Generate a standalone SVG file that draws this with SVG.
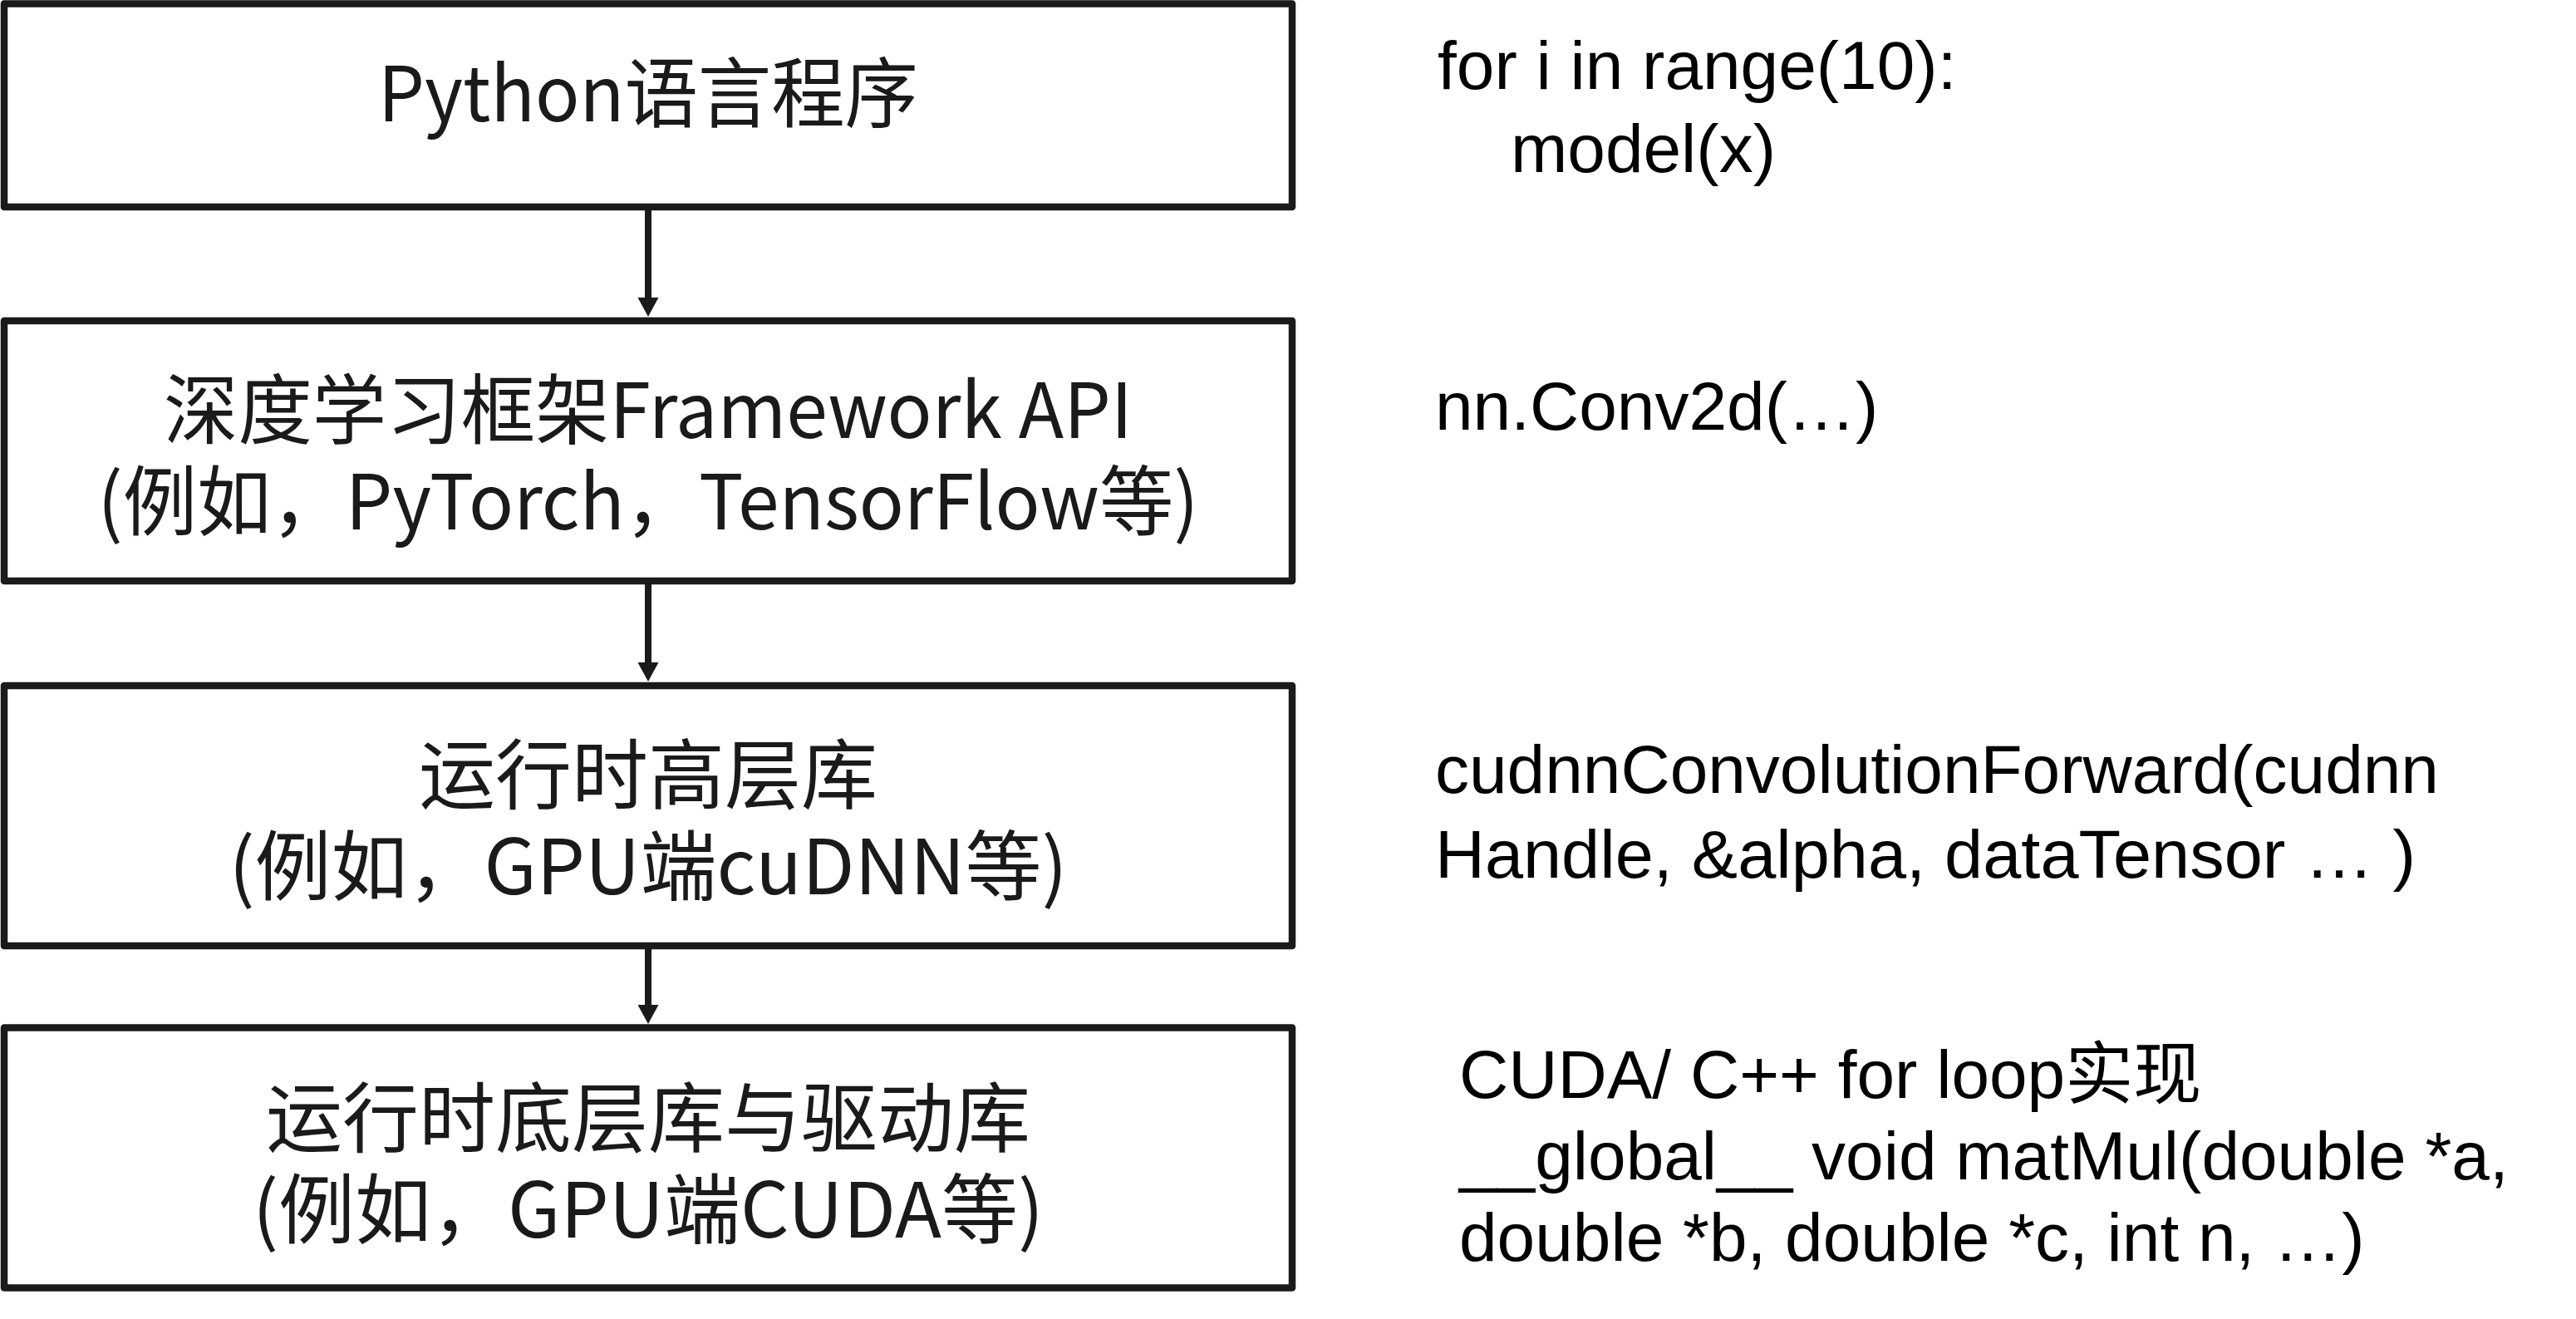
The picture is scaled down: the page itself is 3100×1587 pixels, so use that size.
<svg xmlns="http://www.w3.org/2000/svg" width="3100" height="1587" viewBox="0 0 3100 1587">
  <style>
    .box { fill: #ffffff; stroke: #1a1a1a; stroke-width: 8.5; stroke-linejoin: round; }
    .lbl { font-family: "Microsoft YaHei", "Noto Sans CJK SC", sans-serif; font-size: 92px; fill: #1a1a1a; text-anchor: middle; }
    .code { font-family: "Liberation Sans", Arial, "Noto Sans CJK SC", sans-serif; font-size: 82px; fill: #000000; }
    .conn { stroke: #1a1a1a; stroke-width: 8; fill: none; }
  </style>
  <defs>
    <marker id="arrow" markerUnits="userSpaceOnUse" viewBox="0 0 23 25" markerWidth="23" markerHeight="25" refX="2" refY="12.5" orient="auto">
      <path d="M0,0 L23,12.5 L0,25 Z" fill="#1a1a1a"/>
    </marker>
  </defs>
  <rect width="3100" height="1587" fill="#ffffff"/>

  <g id="node-python">
    <rect class="box" x="5" y="4.5" width="1550" height="244.5"/>
    <text class="lbl" x="780" y="146" textLength="650" lengthAdjust="spacingAndGlyphs">Python语言程序</text>
  </g>
  <g id="node-framework">
    <rect class="box" x="5" y="386" width="1550" height="313"/>
    <text class="lbl" x="780" y="527" textLength="1166" lengthAdjust="spacingAndGlyphs">深度学习框架Framework API</text>
    <text class="lbl" x="780" y="637" textLength="1325" lengthAdjust="spacingAndGlyphs">(例如，PyTorch，TensorFlow等)</text>
  </g>
  <g id="node-highlib">
    <rect class="box" x="5" y="825" width="1550" height="313"/>
    <text class="lbl" x="780" y="966">运行时高层库</text>
    <text class="lbl" x="780" y="1076">(例如，GPU端cuDNN等)</text>
  </g>
  <g id="node-lowlib">
    <rect class="box" x="5" y="1236.5" width="1550" height="313"/>
    <text class="lbl" x="780" y="1379">运行时底层库与驱动库</text>
    <text class="lbl" x="780" y="1489">(例如，GPU端CUDA等)</text>
  </g>

  <g id="connectors">
    <line class="conn" x1="780" y1="253" x2="780" y2="360" marker-end="url(#arrow)"/>
    <line class="conn" x1="780" y1="703" x2="780" y2="799" marker-end="url(#arrow)"/>
    <line class="conn" x1="780" y1="1142" x2="780" y2="1211" marker-end="url(#arrow)"/>
  </g>

  <g id="code-python">
    <text class="code" x="1730" y="107">for i in range(10):</text>
    <text class="code" x="1818" y="207">model(x)</text>
  </g>
  <g id="code-framework">
    <text class="code" x="1727" y="517">nn.Conv2d(…)</text>
  </g>
  <g id="code-highlib">
    <text class="code" x="1727" y="954">cudnnConvolutionForward(cudnn</text>
    <text class="code" x="1727" y="1056" textLength="1180" lengthAdjust="spacingAndGlyphs">Handle, &amp;alpha, dataTensor … )</text>
  </g>
  <g id="code-lowlib">
    <text class="code" x="1756" y="1321">CUDA/ C++ for loop实现</text>
    <text class="code" x="1756" y="1419">__global__ void matMul(double *a,</text>
    <text class="code" x="1756" y="1517">double *b, double *c, int n, …)</text>
  </g>
</svg>
